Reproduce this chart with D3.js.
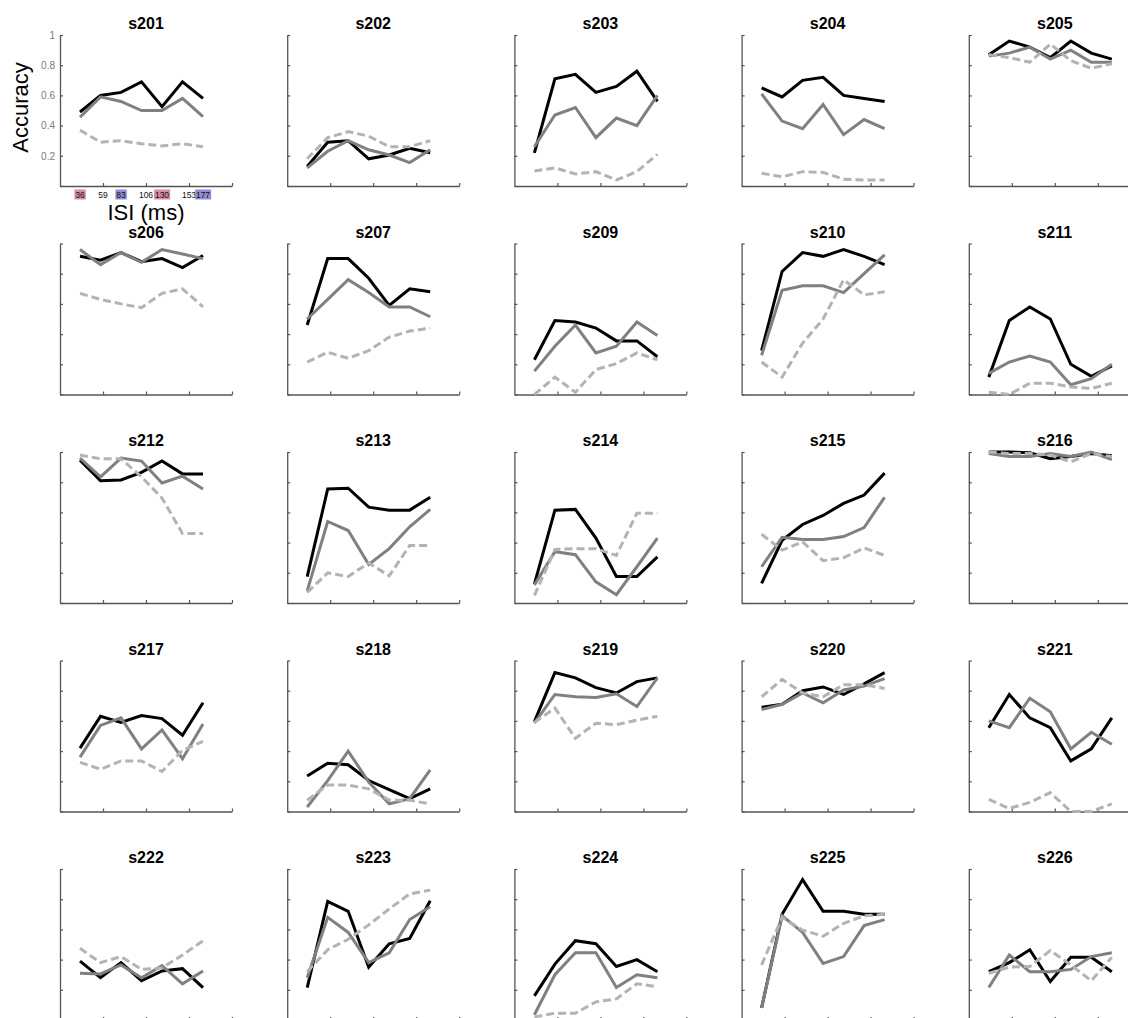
<!DOCTYPE html>
<html><head><meta charset="utf-8">
<script src="https://cdn.jsdelivr.net/npm/d3@7"></script>
<style>
html,body{margin:0;padding:0;background:#fff;}
svg{display:block;font-family:"Liberation Sans",Arial,Helvetica,sans-serif;}
</style></head>
<body>
<svg id="chart" width="1128" height="1018"></svg>
<script>
// ---- data ----
const isiLabels = [36, 59, 83, 106, 130, 153, 177];
const xTickValues = [59, 106, 153, 200];
const yTickValues = [0, 0.2, 0.4, 0.6, 0.8, 1];
const subjects = ["s201","s202","s203","s204","s205","s206","s207","s209","s210","s211",
  "s212","s213","s214","s215","s216","s217","s218","s219","s220","s221",
  "s222","s223","s224","s225","s226"];

const accBlack = [
  [0.49,0.60,0.62,0.69,0.525,0.69,0.58],
  [0.13,0.29,0.30,0.18,0.205,0.25,0.22],
  [0.22,0.71,0.74,0.62,0.66,0.76,0.56],
  [0.65,0.59,0.70,0.72,0.60,0.58,0.56],
  [0.87,0.96,0.92,0.85,0.96,0.88,0.84],
  [0.915,0.89,0.94,0.88,0.90,0.84,0.92],
  [0.46,0.90,0.90,0.77,0.59,0.70,0.68],
  [0.23,0.49,0.48,0.44,0.355,0.355,0.25],
  [0.29,0.815,0.94,0.915,0.96,0.915,0.86],
  [0.115,0.49,0.58,0.50,0.20,0.12,0.19],
  [0.945,0.81,0.815,0.865,0.94,0.855,0.855],
  [0.175,0.755,0.76,0.635,0.615,0.615,0.70],
  [0.125,0.615,0.62,0.43,0.175,0.175,0.305],
  [0.13,0.415,0.52,0.58,0.66,0.715,0.86],
  [1.0,1.0,0.995,0.955,0.97,0.99,0.975],
  [0.42,0.63,0.59,0.635,0.615,0.505,0.72],
  [0.235,0.32,0.31,0.205,0.145,0.085,0.15],
  [0.595,0.92,0.885,0.82,0.785,0.86,0.885],
  [0.69,0.71,0.80,0.825,0.775,0.845,0.92],
  [0.555,0.775,0.62,0.555,0.335,0.415,0.62],
  [0.39,0.28,0.38,0.26,0.325,0.34,0.215],
  [0.215,0.785,0.72,0.35,0.505,0.54,0.79],
  [0.16,0.37,0.525,0.505,0.355,0.40,0.32],
  [0.08,0.70,0.93,0.72,0.72,0.70,0.70],
  [0.32,0.38,0.465,0.255,0.415,0.415,0.32]
];
const accGray = [
  [0.455,0.59,0.56,0.50,0.50,0.58,0.46],
  [0.12,0.23,0.30,0.24,0.205,0.155,0.24],
  [0.26,0.47,0.52,0.32,0.45,0.40,0.60],
  [0.61,0.43,0.38,0.54,0.34,0.44,0.38],
  [0.86,0.88,0.92,0.84,0.90,0.82,0.82],
  [0.96,0.86,0.94,0.875,0.96,0.93,0.90],
  [0.50,0.63,0.76,0.675,0.58,0.58,0.515],
  [0.155,0.32,0.46,0.275,0.32,0.48,0.39],
  [0.26,0.69,0.72,0.72,0.675,0.80,0.925],
  [0.14,0.215,0.255,0.215,0.065,0.105,0.20],
  [0.96,0.835,0.96,0.94,0.795,0.84,0.755],
  [0.08,0.54,0.48,0.255,0.36,0.505,0.62],
  [0.12,0.34,0.32,0.14,0.055,0.24,0.43],
  [0.24,0.435,0.42,0.42,0.44,0.50,0.70],
  [0.99,0.97,0.97,0.99,0.97,1.0,0.95],
  [0.36,0.57,0.62,0.415,0.54,0.35,0.58],
  [0.03,0.205,0.40,0.195,0.05,0.085,0.275],
  [0.585,0.775,0.76,0.755,0.78,0.695,0.885],
  [0.675,0.71,0.785,0.72,0.805,0.83,0.88],
  [0.60,0.555,0.75,0.66,0.415,0.525,0.445],
  [0.31,0.305,0.365,0.28,0.36,0.24,0.325],
  [0.28,0.68,0.58,0.38,0.445,0.665,0.75],
  [0.035,0.30,0.445,0.445,0.215,0.30,0.28],
  [0.08,0.69,0.58,0.375,0.42,0.625,0.665],
  [0.215,0.43,0.32,0.32,0.335,0.42,0.445]
];
const accDashed = [
  [0.37,0.29,0.30,0.28,0.265,0.28,0.26],
  [0.18,0.32,0.36,0.33,0.26,0.26,0.30],
  [0.10,0.12,0.08,0.095,0.04,0.095,0.21],
  [0.085,0.06,0.095,0.09,0.045,0.04,0.04],
  [0.87,0.85,0.82,0.94,0.83,0.78,0.81],
  [0.67,0.63,0.60,0.575,0.67,0.70,0.58],
  [0.215,0.28,0.24,0.29,0.38,0.42,0.44],
  [0.0,0.115,0.015,0.165,0.205,0.275,0.23],
  [0.215,0.115,0.34,0.50,0.76,0.66,0.68],
  [0.015,0.0,0.075,0.075,0.05,0.04,0.075],
  [0.98,0.955,0.955,0.835,0.695,0.46,0.46],
  [0.07,0.20,0.175,0.265,0.18,0.38,0.38],
  [0.05,0.355,0.36,0.36,0.315,0.595,0.595],
  [0.455,0.35,0.405,0.28,0.30,0.365,0.315],
  [1.0,0.99,0.99,0.98,0.935,0.99,0.97],
  [0.325,0.28,0.335,0.335,0.265,0.405,0.465],
  [0.075,0.175,0.175,0.15,0.075,0.075,0.05],
  [0.59,0.685,0.485,0.585,0.575,0.605,0.63],
  [0.76,0.875,0.785,0.76,0.84,0.84,0.815],
  [0.08,0.02,0.06,0.125,0.0,0.0,0.05],
  [0.475,0.38,0.42,0.335,0.345,0.43,0.525],
  [0.32,0.465,0.535,0.63,0.735,0.835,0.86],
  [0.02,0.045,0.045,0.12,0.14,0.24,0.22],
  [0.365,0.68,0.595,0.555,0.64,0.69,0.70],
  [0.31,0.35,0.355,0.46,0.365,0.26,0.415]
];

// ---- layout ----
const svg = d3.select("#chart");
const axW = 172, axH = 151;
const colX0 = 60, colStep = 227.2, rowY0 = 35, rowStep = 208.5;
const axisColor = "#555";

const xMs = d3.scaleLinear().domain([12, 200]).range([0, axW]);
const xIdx = d3.scaleLinear().domain([0, isiLabels.length - 1]).range([20, 143]);
const y = d3.scaleLinear().domain([0, 1]).range([axH, 0]);

const line = d3.line().x((d, i) => xIdx(i)).y(d => y(d));

const seriesStyles = [
  {data: accBlack, color: "#000000", dash: null},
  {data: accGray, color: "#808080", dash: null},
  {data: accDashed, color: "#b3b3b3", dash: "8,4"}
];

subjects.forEach((name, k) => {
  const col = k % 5, row = Math.floor(k / 5);
  const g = svg.append("g")
    .attr("transform", `translate(${colX0 + col * colStep},${rowY0 + row * rowStep})`);

  // axes
  const yAx = d3.axisLeft(y).tickValues(yTickValues).tickSize(-3).tickSizeOuter(0)
    .tickFormat(d => (k === 0 && d > 0) ? d3.format("")(d) : "");
  const yg = g.append("g").call(yAx);
  const xAx = d3.axisBottom(xMs).tickValues(xTickValues).tickSize(-3).tickSizeOuter(0).tickFormat("");
  const xg = g.append("g").attr("transform", `translate(0,${axH})`).call(xAx);
  [yg, xg].forEach(a => {
    a.select(".domain").attr("stroke", axisColor).attr("stroke-width", 1.3);
    a.selectAll(".tick line").attr("stroke", axisColor).attr("stroke-width", 1.2);
  });
  yg.selectAll(".tick text").attr("fill", "#7a7a7a").attr("font-size", 10)
    .attr("font-family", "Liberation Sans, Arial, sans-serif").attr("x", -5);

  // series lines
  seriesStyles.forEach(s => {
    g.append("path")
      .datum(s.data[k])
      .attr("fill", "none")
      .attr("stroke", s.color)
      .attr("stroke-width", 3)
      .attr("stroke-dasharray", s.dash)
      .attr("d", line);
  });

  // title
  g.append("text")
    .attr("x", axW / 2).attr("y", -6)
    .attr("text-anchor", "middle")
    .attr("font-size", 16).attr("font-weight", "bold")
    .attr("fill", "#000")
    .text(name);

  if (k === 0) {
    // ISI labels under the x axis
    const lab = g.append("g");
    isiLabels.forEach((v, i) => {
      const boxed = i % 2 === 0;
      const cx = boxed ? xIdx(i) : xMs(v);
      const t = lab.append("text")
        .attr("x", cx).attr("y", axH + 11.5)
        .attr("text-anchor", "middle")
        .attr("font-size", 8.5).attr("fill", "#111")
        .text(v);
      if (boxed) {
        const bb = t.node().getBBox();
        lab.insert("rect", () => t.node())
          .attr("x", bb.x - 0.8).attr("y", axH + 3.5)
          .attr("width", bb.width + 1.6).attr("height", 10)
          .attr("fill", (i % 4 === 0) ? "#d98ba1" : "#8e8ed3");
      }
    });
    g.append("text")
      .attr("x", xMs(106)).attr("y", axH + 33.5)
      .attr("text-anchor", "middle")
      .attr("font-size", 22).attr("fill", "#000")
      .text("ISI (ms)");
    g.append("text")
      .attr("transform", `translate(-32,${y(0.52)}) rotate(-90)`)
      .attr("text-anchor", "middle")
      .attr("font-size", 22).attr("fill", "#000")
      .text("Accuracy");
  }
});
</script>
</body></html>
